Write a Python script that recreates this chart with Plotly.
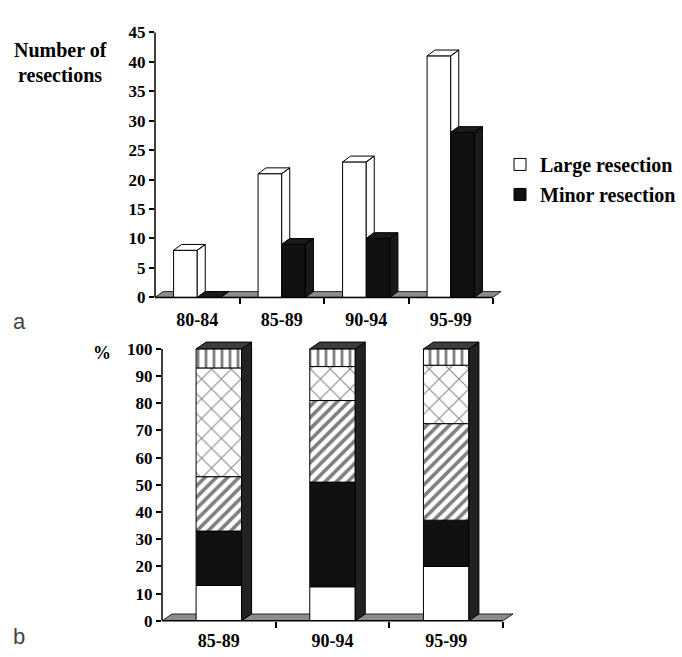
import plotly.graph_objects as go

# ---------------- data ----------------
periods_a = ["80-84", "85-89", "90-94", "95-99"]
large_resection = [8, 21, 23, 41]
minor_resection = [0, 9, 10, 28]

periods_b = ["85-89", "90-94", "95-99"]
seg_white = [13, 12.5, 20]
seg_black = [20, 38.5, 17]
seg_diag = [20, 30, 35.5]
seg_cross = [40, 12.5, 21.5]
seg_vert = [7, 6.5, 6]

y_ticks_a = list(range(0, 46, 5))
y_ticks_b = list(range(0, 101, 10))

# ---------------- geometry / style ----------------
W, H = 682, 657
SERIF = "Liberation Serif"

# panel a: pixel placement
A_LEFT, A_PPU_X, A_XR = 155, 84.5, (-0.5, 3.62)
A_BOT, A_TOP, A_YR = 297, 24, (0, 45)
A_PPU_Y = (A_BOT - A_TOP) / (A_YR[1] - A_YR[0])
A_DX, A_DY = 8 / A_PPU_X, 6 / A_PPU_Y
A_W = 0.28

# panel b
B_LEFT, B_PPU_X, B_XR = 162, 113.67, (-0.5, 2.62)
B_BOT, B_PPU_Y, B_YR = 630, 2.8, (0, 103.5)
B_DX, B_DY = 10 / B_PPU_X, 7 / B_PPU_Y
B_W = 0.40

a_xdom = [A_LEFT / W, (A_LEFT + (A_XR[1] - A_XR[0]) * A_PPU_X) / W]
a_ydom = [1 - A_BOT / H, 1 - A_TOP / H]
b_xdom = [B_LEFT / W, (B_LEFT + (B_XR[1] - B_XR[0]) * B_PPU_X) / W]
b_ydom = [1 - B_BOT / H, 1 - (B_BOT - (B_YR[1] - B_YR[0]) * B_PPU_Y) / H]


def poly_join(polys):
    xs, ys = [], []
    for p in polys:
        for (x, y) in p + [p[0]]:
            xs.append(x)
            ys.append(y)
        xs.append(None)
        ys.append(None)
    return xs, ys


def top_face(x0, x1, h, dx, dy):
    return [(x0, h), (x0 + dx, h + dy), (x1 + dx, h + dy), (x1, h)]


def side_face(x1, hlo, h, dx, dy):
    return [(x1, hlo), (x1, h), (x1 + dx, h + dy), (x1 + dx, hlo + dy)]


fig = go.Figure()

# ---------------- panel a ----------------
xa = list(range(len(periods_a)))
fig.add_trace(go.Bar(
    x=xa, y=large_resection, offset=-A_W, width=A_W, name="Large resection",
    marker=dict(color="white", line=dict(color="black", width=1)),
    xaxis="x", yaxis="y", legendgroup="g1"))
fig.add_trace(go.Bar(
    x=xa, y=minor_resection, offset=0, width=A_W, name="Minor resection",
    marker=dict(color="#111111", line=dict(color="black", width=1)),
    xaxis="x", yaxis="y", legendgroup="g2"))

large_polys = []
for i, (hl, hm) in enumerate(zip(large_resection, minor_resection)):
    x0, x1 = i - A_W, i
    large_polys.append(top_face(x0, x1, hl, A_DX, A_DY))
    large_polys.append(side_face(x1, min(hm, hl), hl, A_DX, A_DY))
lx, ly = poly_join(large_polys)
fig.add_trace(go.Scatter(x=lx, y=ly, mode="lines", fill="toself", fillcolor="white",
                         line=dict(color="black", width=1), hoverinfo="skip",
                         showlegend=False, xaxis="x", yaxis="y"))

minor_polys = []
for i, hm in enumerate(minor_resection):
    x0, x1 = i, i + A_W
    minor_polys.append(top_face(x0, x1, hm, A_DX, A_DY))
    if hm > 0:
        minor_polys.append(side_face(x1, 0, hm, A_DX, A_DY))
mx, my = poly_join(minor_polys)
fig.add_trace(go.Scatter(x=mx, y=my, mode="lines", fill="toself", fillcolor="#1a1a1a",
                         line=dict(color="black", width=1), hoverinfo="skip",
                         showlegend=False, xaxis="x", yaxis="y"))

# ---------------- panel b ----------------
xb = list(range(len(periods_b)))
segments = [
    (seg_white, dict(color="white")),
    (seg_black, dict(color="#111111")),
    (seg_diag, dict(color="white", pattern=dict(shape="/", fgcolor="black", bgcolor="white",
                                                  size=8, solidity=0.45))),
    (seg_cross, dict(color="white", pattern=dict(shape="x", fgcolor="#111111", bgcolor="white",
                                                   size=14, solidity=0.15))),
    (seg_vert, dict(color="white", pattern=dict(shape="|", fgcolor="black", bgcolor="white",
                                                  size=8, solidity=0.35))),
]
base = [0.0] * len(periods_b)
for vals, mk in segments:
    mk = dict(mk)
    mk["line"] = dict(color="black", width=1)
    fig.add_trace(go.Bar(x=xb, y=vals, base=list(base), offset=-B_W / 2, width=B_W,
                         marker=mk, showlegend=False, xaxis="x2", yaxis="y2"))
    base = [b + v for b, v in zip(base, vals)]

totals = base
side_polys, top_polys = [], []
for i, t in enumerate(totals):
    x0, x1 = i - B_W / 2, i + B_W / 2
    side_polys.append(side_face(x1, 0, t, B_DX, B_DY))
    top_polys.append(top_face(x0, x1, t, B_DX, B_DY))
sx, sy = poly_join(side_polys)
fig.add_trace(go.Scatter(x=sx, y=sy, mode="lines", fill="toself", fillcolor="#222222",
                         line=dict(color="black", width=1), hoverinfo="skip",
                         showlegend=False, xaxis="x2", yaxis="y2"))
tx, ty = poly_join(top_polys)
fig.add_trace(go.Scatter(x=tx, y=ty, mode="lines", fill="toself", fillcolor="#3c3c3c",
                         line=dict(color="black", width=1), hoverinfo="skip",
                         showlegend=False, xaxis="x2", yaxis="y2"))

# ---------------- floors and axis lines ----------------
def floor_path(xl, xr, dx, dy):
    return f"M{xl},0 L{xr},0 L{xr + dx},{dy} L{xl + dx},{dy} Z"

shapes = [
    dict(type="path", path=floor_path(-0.5, 3.5, A_DX, A_DY), xref="x", yref="y",
         fillcolor="#8c8c8c", line=dict(color="black", width=0.8), layer="below"),
    dict(type="path", path=floor_path(-0.5, 2.5, B_DX, B_DY), xref="x2", yref="y2",
         fillcolor="#8c8c8c", line=dict(color="black", width=0.8), layer="below"),
    dict(type="line", xref="paper", yref="y", x0=a_xdom[0], x1=a_xdom[0], y0=0, y1=45,
         line=dict(color="black", width=1.5), layer="above"),
    dict(type="line", xref="x", yref="paper", x0=-0.5, x1=3.5, y0=a_ydom[0], y1=a_ydom[0],
         line=dict(color="black", width=1.5), layer="above"),
    dict(type="line", xref="paper", yref="y2", x0=b_xdom[0], x1=b_xdom[0], y0=0, y1=100,
         line=dict(color="black", width=1.5), layer="above"),
    dict(type="line", xref="x2", yref="paper", x0=-0.5, x1=2.5, y0=b_ydom[0], y1=b_ydom[0],
         line=dict(color="black", width=1.5), layer="above"),
]

tick_font_x = dict(family=SERIF, size=18, color="black", weight="bold")
tick_font_y = dict(family=SERIF, size=17, color="black", weight="bold")

common_x = dict(showgrid=False, zeroline=False, showline=False, ticks="",
                tickfont=tick_font_x, fixedrange=True)
common_y = dict(showgrid=False, zeroline=False, showline=False, ticks="outside",
                ticklen=5, tickwidth=1.5, tickcolor="black", tickfont=tick_font_y,
                fixedrange=True)

fig.update_layout(
    width=W, height=H, autosize=False,
    margin=dict(l=0, r=0, t=0, b=0),
    paper_bgcolor="white", plot_bgcolor="rgba(0,0,0,0)",
    barmode="overlay",
    xaxis=dict(domain=a_xdom, range=list(A_XR), tickmode="array", tickvals=xa,
               ticktext=periods_a, anchor="y", ticklabelstandoff=10,
               minor=dict(tickmode="array", tickvals=[i + 0.5 for i in xa], ticks="outside",
                          ticklen=6, tickwidth=1.5, tickcolor="black", showgrid=False),
               **common_x),
    yaxis=dict(domain=a_ydom, range=list(A_YR), tickmode="array", tickvals=y_ticks_a,
               anchor="x", **common_y),
    xaxis2=dict(domain=b_xdom, range=list(B_XR), tickmode="array", tickvals=xb,
                ticktext=periods_b, anchor="y2", ticklabelstandoff=7,
                minor=dict(tickmode="array", tickvals=[i + 0.5 for i in xb], ticks="outside",
                           ticklen=6, tickwidth=1.5, tickcolor="black", showgrid=False),
                **common_x),
    yaxis2=dict(domain=b_ydom, range=list(B_YR), tickmode="array", tickvals=y_ticks_b,
                anchor="x2", **common_y),
    shapes=shapes,
    showlegend=True,
    legend=dict(x=500 / W, y=1 - 140 / H, xanchor="left", yanchor="top",
                font=dict(family=SERIF, size=20, color="black", weight="bold"),
                bgcolor="rgba(0,0,0,0)", tracegroupgap=1, itemwidth=30),
    annotations=[
        dict(text="Number of", x=60 / W, y=1 - 42 / H, xref="paper", yref="paper",
             showarrow=False, xanchor="center", yanchor="middle",
             font=dict(family=SERIF, size=20, color="black", weight="bold")),
        dict(text="resections", x=60 / W, y=1 - 68 / H, xref="paper", yref="paper",
             showarrow=False, xanchor="center", yanchor="middle",
             font=dict(family=SERIF, size=20, color="black", weight="bold")),
        dict(text="%", x=102 / W, y=1 - 354 / H, xref="paper", yref="paper",
             showarrow=False, xanchor="center", yanchor="middle",
             font=dict(family=SERIF, size=18, color="black", weight="bold")),
        dict(text="a", x=19 / W, y=1 - 322 / H, xref="paper", yref="paper",
             showarrow=False, xanchor="center", yanchor="middle",
             font=dict(family="Liberation Sans", size=22, color="#444444")),
        dict(text="b", x=19 / W, y=1 - 646 / H, xref="paper", yref="paper",
             showarrow=False, xanchor="center", yanchor="middle",
             font=dict(family="Liberation Sans", size=22, color="#444444")),
    ],
)

fig.write_html("out.html", config={"displayModeBar": False},
               post_script="document.body.style.margin='0px';")
